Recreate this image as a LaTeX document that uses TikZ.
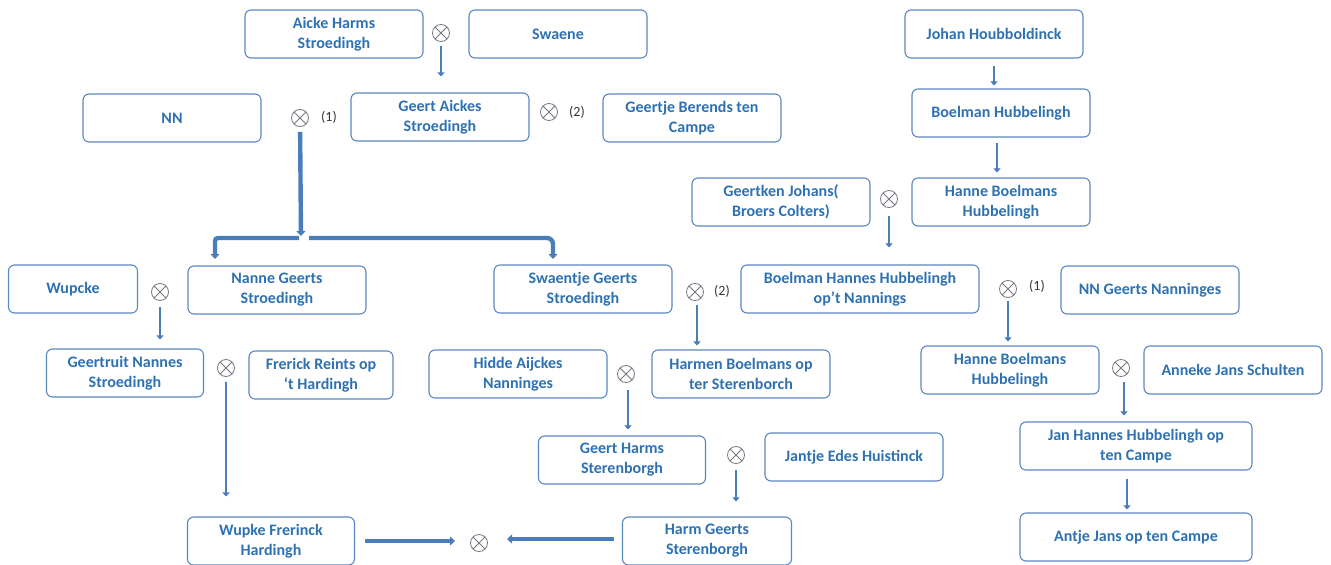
\documentclass[tikz,border=0pt]{standalone}
\usepackage{fontspec}
\setmainfont{Carlito}
\usepackage{tikz}
\usetikzlibrary{arrows.meta, positioning, calc}
\definecolor{boxline}{RGB}{90,135,190}
\definecolor{nametext}{RGB}{46,113,178}
\definecolor{arrowblue}{RGB}{74,126,187}
\definecolor{wedgray}{RGB}{115,120,130}

\begin{document}
\begin{tikzpicture}[x=1pt,y=-1pt]
      \tikzset{person/.style={draw=boxline,
          rounded corners=6pt,
          line width=1.1pt,
          minimum width=178pt,
          minimum height=48pt,
          inner sep=2pt,
          align=center,
          text=nametext,
          font=\bfseries\fontsize{16}{20}\selectfont},
        wed/.style={circle, draw=wedgray, line width=0.8pt,
          minimum size=17pt, inner sep=0pt,
          path picture={\draw[wedgray, line width=0.8pt]
            (path picture bounding box.north west) -- (path picture bounding box.south east)
            (path picture bounding box.south west) -- (path picture bounding box.north east);}},
        wedno/.style={font=\fontsize{14}{16}\selectfont, text=black!80},
        child/.style={draw=arrowblue, line width=2.8pt, -{Triangle[length=4pt,width=7pt]}},
        bigchild/.style={draw=arrowblue, line width=4.4pt, -{Triangle[length=5pt,width=9pt]}}
      }
      \useasboundingbox (0,0) rectangle (1331,565);
      % Stroedingh side
      \node [person] (aicke) at (334,34) {Aicke Harms\\Stroedingh};
      \node [wed] (mAicke) at (441,33) {};
      \node [person] (swaene) at (558,34) {Swaene};
      \node [person] (nn) at (172,118) {NN};
      \node [wed] (mGeert1) at (300,118) {};
      \node [wedno] (n1Geert) at (329,117) {(1)};
      \node [person] (geert) at (440,117) {Geert Aickes\\Stroedingh};
      \node [wed] (mGeert2) at (549,112) {};
      \node [wedno] (n2Geert) at (577,112) {(2)};
      \node [person] (geertje) at (692,118) {Geertje Berends ten\\Campe};
      \coordinate (split) at (301,238);
      \coordinate (nanneIn) at (215,259);
      \coordinate (swaentjeIn) at (553,259);
      \node [person, minimum width=129pt] (wupcke) at (73,289) {Wupcke};
      \node [wed] (mNanne) at (160,292) {};
      \node [person] (nanne) at (277,290) {Nanne Geerts\\Stroedingh};
      \node [person] (swaentje) at (583,289) {Swaentje Geerts\\Stroedingh};
      \node [wed] (mSwaentje) at (695,292) {};
      \node [wedno] (n2Swaentje) at (722,291) {(2)};
      \node [person, minimum width=157pt] (geertruit) at (125,373) {Geertruit Nannes\\Stroedingh};
      \node [wed] (mGeertruit) at (226,368) {};
      \node [person, minimum width=144pt] (frerick) at (321,375) {Frerick Reints op\\‘t Hardingh};
      \node [person] (hidde) at (518,374) {Hidde Aijckes\\Nanninges};
      \node [wed] (mHarmen) at (626,374) {};
      \node [person] (harmen) at (741,374) {Harmen Boelmans op\\ter Sterenborch};
      \node [person, minimum width=167pt] (geertH) at (622,460) {Geert Harms\\Sterenborgh};
      \node [wed] (mGeertH) at (736,455) {};
      \node [person] (jantje) at (854,457) {Jantje Edes Huistinck};
      \node [person, minimum width=167pt] (wupke) at (271,541) {Wupke Frerinck\\Hardingh};
      \node [wed] (mWupke) at (479,543) {};
      \node [person, minimum width=169pt] (harm) at (707,541) {Harm Geerts\\Sterenborgh};
      % Hubbelingh side
      \node [person] (johan) at (994,34) {Johan Houbboldinck};
      \node [person] (boelman) at (1001,113) {Boelman Hubbelingh};
      \node [person] (geertken) at (781,202) {Geertken Johans(\\Broers Colters)};
      \node [wed] (mHanne) at (889,199) {};
      \node [person] (hanne) at (1001,202) {Hanne Boelmans\\Hubbelingh};
      \node [person, minimum width=238pt] (boelmanH) at (860,289) {Boelman Hannes Hubbelingh\\op’t Nannings};
      \node [wed] (mBoelman) at (1008,289) {};
      \node [wedno] (n1Boelman) at (1037,286) {(1)};
      \node [person] (nnGeerts) at (1150,290) {NN Geerts Nanninges};
      \node [person] (hanne2) at (1010,370) {Hanne Boelmans\\Hubbelingh};
      \node [wed] (mHanne2) at (1121,368) {};
      \node [person] (anneke) at (1233,370) {Anneke Jans Schulten};
      \node [person, minimum width=232pt] (jan) at (1136,446) {Jan Hannes Hubbelingh op\\ten Campe};
      \node [person, minimum width=232pt] (antje) at (1136,537) {Antje Jans op ten Campe};
      % descent
      \draw [child, shorten <=4pt, shorten >=16pt] (mAicke) -- (mAicke |- geert.north);
      \draw [bigchild, shorten <=5pt, shorten >=2pt] (mGeert1) -- (split);
      \draw [bigchild, rounded corners=3pt] ([xshift=-2pt]split) -| (nanneIn);
      \draw [bigchild, rounded corners=6pt] ([xshift=8pt]split) -| (swaentjeIn);
      \draw [child, shorten <=6pt, shorten >=9pt] (mNanne) -- (mNanne |- geertruit.north);
      \draw [child, shorten <=5pt, shorten >=20pt] (mGeertruit) -- (mGeertruit |- wupke.north);
      \draw [child, shorten <=4pt, shorten >=4pt] ([xshift=2pt]mSwaentje.south) -- ([xshift=2pt]mSwaentje |- harmen.north);
      \draw [child, shorten <=7pt, shorten >=6pt] ([xshift=2pt]mHarmen.south) -- ([xshift=2pt]mHarmen |- geertH.north);
      \draw [child, shorten <=6pt, shorten >=15pt] (mGeertH) -- (mGeertH |- harm.north);
      \draw [bigchild, shorten <=10pt, shorten >=24pt] (wupke.east) -- (wupke.east -| mWupke);
      \draw [bigchild, shorten <=8pt, shorten >=28pt] ([yshift=2pt]harm.west) -- ([yshift=2pt]harm.west -| mWupke);
      \draw [child, shorten <=7pt, shorten >=3pt] (johan.south) -- (johan.south |- boelman.north);
      \draw [child, shorten <=5pt, shorten >=5pt] ([xshift=-4pt]boelman.south) -- ([xshift=-4pt]boelman.south |- hanne.north);
      \draw [child, shorten <=8pt, shorten >=17pt] (mHanne) -- (mHanne |- boelmanH.north);
      \draw [child, shorten <=3pt, shorten >=4pt] (mBoelman) -- (mBoelman |- hanne2.north);
      \draw [child, shorten <=5pt, shorten >=6pt] ([xshift=3pt]mHanne2.south) -- ([xshift=3pt]mHanne2 |- jan.north);
      \draw [child, shorten <=8pt, shorten >=3pt] ([xshift=-9pt]jan.south) -- ([xshift=-9pt]jan.south |- antje.north);
\end{tikzpicture}
\end{document}
